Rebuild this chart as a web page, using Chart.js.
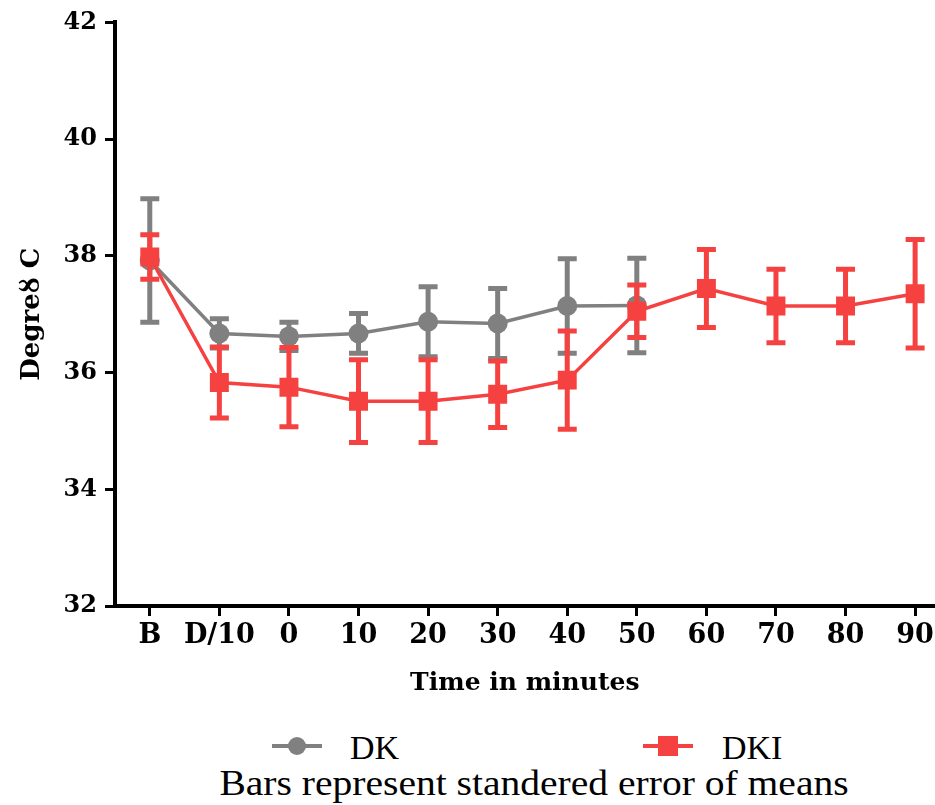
<!DOCTYPE html>
<html>
<head>
<meta charset="utf-8">
<script src="https://cdn.jsdelivr.net/npm/chart.js@4.4.0/dist/chart.umd.min.js"></script>
<style>
  body { margin: 0; background: #fff; }
  #wrap { position: relative; width: 935px; height: 805px; overflow: hidden; }
  #chart { position: absolute; left: 0; top: 0; }
  .leg { position: absolute; font-family: "Liberation Serif", serif; font-size: 34px; color: #000; line-height: 1; }
  .mark { position: absolute; height: 4px; width: 50px; }
  .dot { position: absolute; }
  #note { position: absolute; left: 534px; top: 766px; white-space: nowrap;
          transform: translateX(-50%) scaleX(1.13);
          font-family: "Liberation Serif", serif; font-size: 35px; line-height: 1; color: #000; }
</style>
</head>
<body>
<div id="wrap">
  <!-- canvas is a bit wider than the page so the x axis runs to the right edge -->
  <canvas id="chart" width="948" height="715"></canvas>
  <!-- legend -->
  <div class="mark" style="left:272px; top:744px; background:#808080;"></div>
  <div class="dot" style="left:288px; top:737px; width:18px; height:18px; border-radius:50%; background:#808080;"></div>
  <div class="leg" style="left:350px; top:731px;">DK</div>
  <div class="mark" style="left:643px; top:744px; background:#f64141;"></div>
  <div class="dot" style="left:658px; top:736px; width:20px; height:20px; background:#f64141;"></div>
  <div class="leg" style="left:722px; top:731px;">DKI</div>
  <div id="note">Bars represent standered error of means</div>
</div>
<script>
// time points on the x axis
const xLabels = ["B", "D/10", "0", "10", "20", "30", "40", "50", "60", "70", "80", "90"];

// DK group (ends at 50 min)
const dkMeans = [37.92, 36.67, 36.62, 36.67, 36.87, 36.84, 37.14, 37.15];
const dkErrors = [1.06, 0.25, 0.24, 0.34, 0.6, 0.6, 0.81, 0.81];

// DKI group
const dkiMeans = [37.98, 35.83, 35.75, 35.51, 35.51, 35.63, 35.87, 37.05, 37.44, 37.14, 37.14, 37.35];
const dkiErrors = [0.38, 0.61, 0.68, 0.71, 0.71, 0.57, 0.84, 0.45, 0.67, 0.63, 0.63, 0.93];

const yTicks = [32, 34, 36, 38, 40, 42];

const GRAY = "#808080";
const RED = "#f64141";

// draw the SEM bars under each dataset's line
const errorBars = {
  id: "errorBars",
  beforeDatasetDraw(chart, args) {
    const ds = chart.data.datasets[args.index];
    if (!ds.errors) return;
    const ctx = chart.ctx;
    const yScale = chart.scales.y;
    ctx.save();
    ctx.strokeStyle = ds.borderColor;
    ctx.lineWidth = 5;
    args.meta.data.forEach((pt, i) => {
      const v = ds.data[i].y;
      const e = ds.errors[i];
      const top = yScale.getPixelForValue(v + e);
      const bot = yScale.getPixelForValue(v - e);
      ctx.beginPath();
      ctx.moveTo(pt.x, top);
      ctx.lineTo(pt.x, bot);
      ctx.moveTo(pt.x - 9.5, top);
      ctx.lineTo(pt.x + 9.5, top);
      ctx.moveTo(pt.x - 9.5, bot);
      ctx.lineTo(pt.x + 9.5, bot);
      ctx.stroke();
    });
    ctx.restore();
  },
};

function toPoints(values) {
  return values.map((v, i) => ({ x: i, y: v }));
}

new Chart(document.getElementById("chart"), {
  type: "line",
  data: {
    datasets: [
      {
        label: "DK",
        data: toPoints(dkMeans),
        errors: dkErrors,
        borderColor: GRAY,
        backgroundColor: GRAY,
        borderWidth: 3.5,
        pointStyle: "circle",
        pointRadius: 10,
        pointBorderWidth: 0,
        order: 2,
      },
      {
        label: "DKI",
        data: toPoints(dkiMeans),
        errors: dkiErrors,
        borderColor: RED,
        backgroundColor: RED,
        borderWidth: 3.5,
        pointStyle: "rect",
        pointRadius: 13.4,
        pointBorderWidth: 0,
        order: 1,
      },
    ],
  },
  options: {
    responsive: false,
    animation: false,
    devicePixelRatio: 1,
    layout: { padding: { top: 19, left: 0, right: 0, bottom: 0 } },
    plugins: {
      legend: { display: false },
      tooltip: { enabled: false },
    },
    scales: {
      x: {
        type: "linear",
        min: -0.5,
        max: 11.28,
        afterFit: (scale) => { scale.height = 109; },
        afterBuildTicks: (scale) => {
          scale.ticks = xLabels.map((_, i) => ({ value: i }));
        },
        ticks: {
          autoSkip: false,
          maxRotation: 0,
          padding: 4,
          color: "#000",
          font: { family: "DejaVu Serif", weight: "bold", size: 27 },
          callback: (value) => xLabels[value],
        },
        grid: {
          drawOnChartArea: false,
          tickLength: 10,
          tickWidth: 3,
          tickColor: "#000",
        },
        border: { color: "#000", width: 4 },
        title: {
          display: true,
          text: "Time in minutes",
          color: "#000",
          font: { family: "DejaVu Serif", weight: "bold", size: 25 },
          padding: { top: 0, bottom: 17 },
        },
      },
      y: {
        min: 32,
        max: 42,
        afterFit: (scale) => { scale.width = 115; },
        afterBuildTicks: (scale) => {
          scale.ticks = yTicks.map((v) => ({ value: v }));
        },
        ticks: {
          padding: 8,
          color: "#000",
          font: { family: "DejaVu Serif", weight: "bold", size: 24 },
        },
        grid: {
          drawOnChartArea: false,
          tickLength: 10,
          tickWidth: 3,
          tickColor: "#000",
        },
        border: { color: "#000", width: 4 },
        title: {
          display: true,
          text: "Degreȣ C",
          color: "#000",
          font: { family: "DejaVu Serif", weight: "bold", size: 26 },
          padding: { top: 17, bottom: 0 },
        },
      },
    },
  },
  plugins: [errorBars],
});
</script>
</body>
</html>
